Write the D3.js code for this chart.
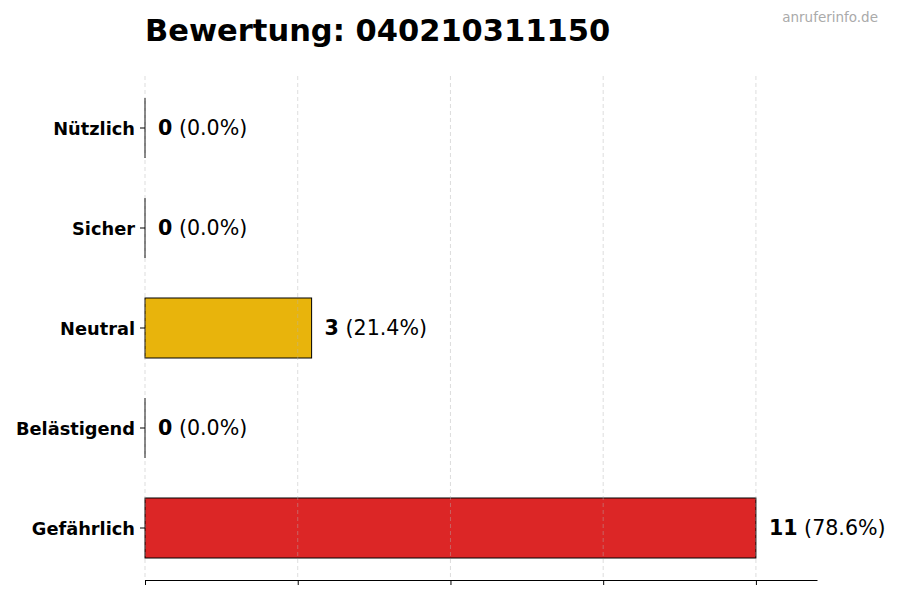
<!DOCTYPE html>
<html><head><meta charset="utf-8">
<script src="https://cdn.jsdelivr.net/npm/d3@7"></script>
<style>body{margin:0;background:#fff}svg{font-family:"DejaVu Sans",sans-serif}</style>
</head><body><svg id="c" width="900" height="600"></svg>
<script>
const categories = ["Nützlich","Sicher","Neutral","Belästigend","Gefährlich"];
const values = [0,0,3,0,11];
const colors = ["#2ca02c","#1f77b4","#E8B40C","#f28e2b","#DC2626"];
const titleText = "Bewertung: 040210311150";
const watermark = "anruferinfo.de";

const svg = d3.select("#c");
const m = {l:145, r:817, t:78, b:580};
const total = d3.sum(values);
const maxV = d3.max(values);
const x = d3.scaleLinear().domain([0, maxV*1.1]).range([m.l, m.r]);
const y = d3.scaleBand().domain(categories).range([m.t, m.b-2]).paddingInner(0.4).paddingOuter(0.2);
const tickVals = d3.range(0,5).map(i => maxV*i/4);

// bars
svg.selectAll("rect.bar").data(categories).join("rect")
  .attr("x", x(0)).attr("y", d => y(d))
  .attr("width", (d,i) => x(values[i]) - x(0))
  .attr("height", y.bandwidth())
  .attr("fill", (d,i) => colors[i])
  .attr("stroke", "#000").attr("stroke-width", 1);
// zero-width bars still show their edge
svg.selectAll("line.zero").data(categories.filter((d,i) => values[i] === 0)).join("line")
  .attr("x1", x(0)).attr("x2", x(0))
  .attr("y1", d => y(d)).attr("y2", d => y(d) + y.bandwidth())
  .attr("stroke", "#000").attr("stroke-width", 1);

// grid (drawn over bars)
svg.selectAll("line.grid").data(tickVals).join("line")
  .attr("x1", d => x(d)).attr("x2", d => x(d))
  .attr("y1", m.t - 2).attr("y2", m.b)
  .attr("stroke", "#b0b0b0").attr("stroke-opacity", 0.55)
  .attr("stroke-dasharray", "4,3").attr("stroke-width", 0.8);

// bottom axis
const xAxis = svg.append("g").attr("transform", `translate(0,${m.b})`)
  .call(d3.axisBottom(x).tickValues(tickVals).tickFormat("").tickSizeInner(5).tickSizeOuter(0));
xAxis.select(".domain").attr("stroke", "#000").attr("stroke-width", 1.2);
xAxis.selectAll(".tick line").attr("stroke", "#000");

// left axis: ticks and labels only
const yAxis = svg.append("g").attr("transform", `translate(${m.l},0)`)
  .call(d3.axisLeft(y).tickSizeInner(5).tickSizeOuter(0).tickPadding(5));
yAxis.select(".domain").remove();
yAxis.selectAll(".tick line").attr("stroke", "#000");
yAxis.selectAll(".tick text").attr("font-size", 17.8).attr("font-weight", "bold")
  .attr("fill", "#000").attr("font-family", "DejaVu Sans").attr("dy", "0.4em");

// value labels
const lab = svg.selectAll("text.val").data(categories).join("text")
  .attr("x", (d,i) => x(values[i]) + 13)
  .attr("y", d => y(d) + y.bandwidth()/2)
  .attr("dy", "0.36em").attr("font-size", 20.6).attr("fill", "#000");
lab.append("tspan").attr("font-weight", "bold").text((d,i) => values[i]);
lab.append("tspan").text((d,i) => " (" + (values[i]/total*100).toFixed(1) + "%)");

// title
svg.append("text").attr("x", 145).attr("y", 41).attr("font-size", 30.5)
  .attr("font-weight", "bold").attr("fill", "#000").text(titleText);
svg.append("text").attr("x", 878).attr("y", 22).attr("text-anchor", "end")
  .attr("font-size", 13.5).attr("fill", "#aaaaaa").text(watermark);
</script></body></html>
